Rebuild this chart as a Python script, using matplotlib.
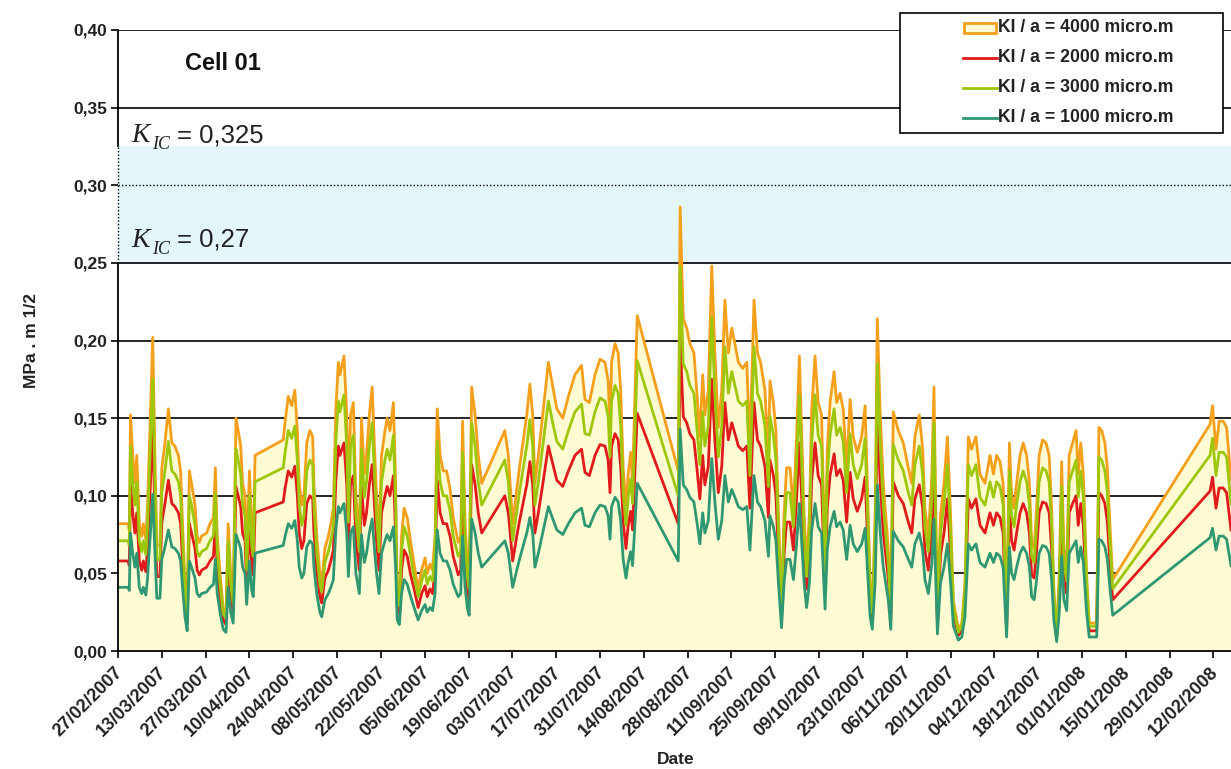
# Stress intensity factor KI over time for four crack sizes - Cell 01
import datetime as dt
import numpy as np
import matplotlib
matplotlib.use("Agg")
import matplotlib.pyplot as plt
import matplotlib.dates as mdates
import matplotlib.transforms as mtransforms
from matplotlib.patches import Rectangle
from matplotlib.lines import Line2D

plt.rcParams["font.family"] = ["Liberation Sans", "DejaVu Sans"]

# ---------------------------------------------------------------- data
START = dt.date(2007, 2, 27)

# days elapsed since START for each record
days = [
    0.0, 3.3, 3.6, 4.0, 4.7, 5.4, 6.0, 6.8, 7.6, 8.1,
    8.9, 9.4, 10.2, 11.1, 11.8, 12.4, 13.4, 14.0, 15.0, 16.1,
    17.2, 18.2, 19.3, 20.0, 20.7, 21.4, 22.1, 22.8, 23.5, 24.6,
    25.3, 26.0, 26.7, 28.3, 29.4, 30.5, 31.1, 31.7, 32.6, 33.6,
    34.5, 35.2, 36.0, 36.8, 37.7, 38.4, 39.2, 39.8, 40.6, 41.1,
    42.0, 42.7, 43.2, 43.8, 52.8, 53.4, 54.4, 55.5, 56.5, 57.3,
    57.9, 58.7, 59.4, 60.3, 61.3, 62.2, 62.6, 63.5, 64.5, 65.1,
    66.1, 67.2, 68.0,
    68.8, 69.6, 70.4, 70.9, 72.2, 73.1, 73.6, 74.3, 75.2, 76.0,
    77.1, 77.8, 78.7, 79.4, 80.3, 81.2, 81.9, 82.6, 83.4, 84.2,
    85.3, 86.0, 86.9, 88.0, 88.7, 89.2, 89.9, 90.6, 91.4, 92.4,
    93.5, 94.6, 95.9, 97.0, 98.1, 98.8, 99.7, 100.5, 101.3, 102.0,
    102.9, 103.9, 105.0, 106.1, 107.1, 108.7, 109.5, 110.1, 110.9, 111.6,
    112.2, 113.0, 114.1, 115.1, 116.2, 123.6, 124.7, 126.1, 127.4, 128.4,
    130.6, 131.6, 132.5, 133.2, 134.3, 135.9, 137.5,
    139.1, 140.2, 142.1, 143.9, 146.0, 148.1, 149.2, 150.6, 152.4, 154.0,
    155.6, 156.6, 157.2, 157.7, 158.8, 159.8, 160.6, 161.4, 162.3, 163.0,
    163.8, 164.4, 165.9, 179.0, 179.6, 180.6, 181.7, 182.7, 184.0, 184.9,
    185.9, 186.8, 187.5, 188.6, 189.7, 190.7, 191.8, 192.9, 193.9, 195.0,
    196.1, 197.1, 198.2, 199.6, 200.9, 201.9, 203.2, 204.3, 205.3, 206.7, 207.8,
    208.3, 209.4, 210.2, 211.0, 212.0, 212.8, 213.6, 214.7, 215.8, 216.8,
    217.7, 218.4, 219.2, 220.0, 220.9, 221.6, 222.7, 223.7, 224.8, 225.9,
    226.6, 227.5, 228.8, 229.6, 230.7, 231.7, 232.8, 233.9, 234.9, 236.2,
    237.6, 238.7, 239.4, 240.3, 241.0, 241.9, 242.6, 243.5, 244.5, 246.1,
    246.9, 247.7, 249.3, 250.9, 252.5, 253.6, 254.6, 256.0, 257.1, 257.8,
    258.9, 260.0, 260.7, 261.8, 262.8, 263.9, 265.0, 266.0, 266.9, 268.5,
    269.6, 270.6, 271.7, 272.7, 274.1, 275.4, 277.0,
    278.6, 279.7, 280.7, 281.8, 282.8, 283.9, 284.8, 285.5, 286.3, 287.1,
    288.2, 289.2, 290.3, 291.2, 291.9, 292.7, 293.5, 294.3, 295.4, 296.5,
    297.5, 298.3, 299.0, 299.9, 300.7, 301.5, 302.2, 303.1, 303.9, 305.0,
    306.1, 306.8, 307.6, 308.4, 309.5, 310.3, 311.6, 312.7, 313.4, 314.3,
    315.3, 316.1, 316.9, 317.8, 348.9, 349.7, 350.8, 351.8, 353.1, 354.2, 355.6,
]

# KI (MPa.m^1/2), crack size a = 1000 micro.m
k1000 = [
    0.041, 0.041, 0.039, 0.076, 0.063, 0.054, 0.063, 0.041, 0.037, 0.041,
    0.036, 0.046, 0.071, 0.101, 0.063, 0.034, 0.034, 0.059, 0.067, 0.078,
    0.067, 0.066, 0.063, 0.058, 0.039, 0.022, 0.013, 0.058, 0.054, 0.047,
    0.037, 0.035, 0.037, 0.038, 0.041, 0.043, 0.059, 0.037, 0.025, 0.014,
    0.012, 0.041, 0.025, 0.018, 0.075, 0.071, 0.066, 0.054, 0.050, 0.030,
    0.058, 0.039, 0.035, 0.063, 0.068, 0.074, 0.082, 0.079, 0.084, 0.071,
    0.054, 0.047, 0.050, 0.067, 0.071, 0.069, 0.054, 0.037, 0.025, 0.022,
    0.033, 0.037, 0.041,
    0.046, 0.078, 0.093, 0.089, 0.095, 0.076, 0.048, 0.076, 0.080, 0.050,
    0.037, 0.075, 0.057, 0.063, 0.076, 0.085, 0.067, 0.050, 0.037, 0.063,
    0.071, 0.075, 0.071, 0.080, 0.054, 0.020, 0.017, 0.037, 0.046, 0.043,
    0.035, 0.028, 0.020, 0.026, 0.030, 0.025, 0.028, 0.026, 0.037, 0.078,
    0.063, 0.058, 0.058, 0.052, 0.043, 0.035, 0.037, 0.074, 0.041, 0.028,
    0.023, 0.085, 0.076, 0.063, 0.054, 0.071, 0.063, 0.041, 0.052, 0.060,
    0.076, 0.086, 0.076, 0.054, 0.063, 0.078, 0.093,
    0.084, 0.078, 0.075, 0.082, 0.089, 0.092, 0.081, 0.080, 0.089, 0.094,
    0.093, 0.087, 0.072, 0.093, 0.099, 0.096, 0.084, 0.059, 0.047, 0.057,
    0.064, 0.055, 0.108, 0.058, 0.143, 0.107, 0.104, 0.099, 0.096, 0.084,
    0.069, 0.089, 0.076, 0.084, 0.124, 0.096, 0.072, 0.084, 0.113, 0.096,
    0.104, 0.099, 0.093, 0.091, 0.093, 0.065, 0.113, 0.096, 0.093, 0.084, 0.061,
    0.087, 0.080, 0.071, 0.044, 0.015, 0.044, 0.059, 0.059, 0.046, 0.069,
    0.095, 0.071, 0.044, 0.028, 0.044, 0.077, 0.095, 0.080, 0.076, 0.027,
    0.065, 0.080, 0.090, 0.080, 0.083, 0.078, 0.059, 0.081, 0.069, 0.064,
    0.069, 0.079, 0.054, 0.022, 0.014, 0.044, 0.107, 0.077, 0.054, 0.033,
    0.014, 0.077, 0.071, 0.067, 0.059, 0.054, 0.069, 0.076, 0.065, 0.046,
    0.037, 0.056, 0.085, 0.011, 0.044, 0.054, 0.069, 0.044, 0.016, 0.007,
    0.009, 0.022, 0.069, 0.065, 0.069, 0.057, 0.054,
    0.063, 0.057, 0.063, 0.061, 0.054, 0.009, 0.067, 0.050, 0.046, 0.054,
    0.063, 0.067, 0.063, 0.054, 0.035, 0.033, 0.046, 0.063, 0.068, 0.067,
    0.063, 0.046, 0.020, 0.006, 0.024, 0.061, 0.033, 0.026, 0.063, 0.067,
    0.071, 0.057, 0.067, 0.057, 0.024, 0.009, 0.009, 0.009, 0.072, 0.071,
    0.067, 0.059, 0.041, 0.023, 0.073, 0.079, 0.065, 0.074, 0.074, 0.072, 0.055,
]

# KI (MPa.m^1/2), crack size a = 2000 micro.m
k2000 = [
    0.058, 0.058, 0.055, 0.107, 0.089, 0.076, 0.089, 0.058, 0.052, 0.058,
    0.051, 0.065, 0.100, 0.143, 0.089, 0.048, 0.048, 0.083, 0.095, 0.110,
    0.095, 0.093, 0.089, 0.082, 0.055, 0.031, 0.018, 0.082, 0.076, 0.066,
    0.052, 0.049, 0.052, 0.054, 0.058, 0.061, 0.083, 0.052, 0.035, 0.020,
    0.017, 0.058, 0.035, 0.025, 0.106, 0.100, 0.093, 0.076, 0.071, 0.042,
    0.082, 0.055, 0.049, 0.089, 0.096, 0.105, 0.116, 0.112, 0.119, 0.100,
    0.076, 0.066, 0.071, 0.095, 0.100, 0.098, 0.076, 0.052, 0.035, 0.031,
    0.047, 0.052, 0.058,
    0.065, 0.110, 0.132, 0.126, 0.134, 0.107, 0.068, 0.107, 0.113, 0.071,
    0.052, 0.106, 0.081, 0.089, 0.107, 0.120, 0.095, 0.071, 0.052, 0.089,
    0.100, 0.106, 0.100, 0.113, 0.076, 0.028, 0.024, 0.052, 0.065, 0.061,
    0.049, 0.040, 0.028, 0.037, 0.042, 0.035, 0.040, 0.037, 0.052, 0.110,
    0.089, 0.082, 0.082, 0.074, 0.061, 0.049, 0.052, 0.105, 0.058, 0.040,
    0.033, 0.120, 0.107, 0.089, 0.076, 0.100, 0.089, 0.058, 0.074, 0.085,
    0.107, 0.122, 0.107, 0.076, 0.089, 0.110, 0.132,
    0.119, 0.110, 0.106, 0.116, 0.126, 0.130, 0.115, 0.113, 0.126, 0.133,
    0.132, 0.123, 0.102, 0.132, 0.140, 0.136, 0.119, 0.083, 0.066, 0.081,
    0.090, 0.078, 0.153, 0.082, 0.202, 0.151, 0.147, 0.140, 0.136, 0.119,
    0.098, 0.126, 0.107, 0.119, 0.175, 0.136, 0.102, 0.119, 0.160, 0.136,
    0.147, 0.140, 0.132, 0.129, 0.132, 0.092, 0.160, 0.136, 0.132, 0.119, 0.086,
    0.123, 0.113, 0.100, 0.062, 0.021, 0.062, 0.083, 0.083, 0.065, 0.098,
    0.134, 0.100, 0.062, 0.040, 0.062, 0.109, 0.134, 0.113, 0.107, 0.038,
    0.092, 0.113, 0.127, 0.113, 0.117, 0.110, 0.083, 0.115, 0.098, 0.090,
    0.098, 0.112, 0.076, 0.031, 0.020, 0.062, 0.151, 0.109, 0.076, 0.047,
    0.020, 0.109, 0.100, 0.095, 0.083, 0.076, 0.098, 0.107, 0.092, 0.065,
    0.052, 0.079, 0.120, 0.016, 0.062, 0.076, 0.098, 0.062, 0.023, 0.010,
    0.013, 0.031, 0.098, 0.092, 0.098, 0.081, 0.076,
    0.089, 0.081, 0.089, 0.086, 0.076, 0.013, 0.095, 0.071, 0.065, 0.076,
    0.089, 0.095, 0.089, 0.076, 0.049, 0.047, 0.065, 0.089, 0.096, 0.095,
    0.089, 0.065, 0.028, 0.008, 0.034, 0.086, 0.047, 0.037, 0.089, 0.095,
    0.100, 0.081, 0.095, 0.081, 0.034, 0.013, 0.013, 0.013, 0.102, 0.100,
    0.095, 0.083, 0.058, 0.033, 0.103, 0.112, 0.092, 0.105, 0.105, 0.102, 0.078,
]

# KI (MPa.m^1/2), crack size a = 3000 micro.m
k3000 = [
    0.071, 0.071, 0.068, 0.132, 0.109, 0.094, 0.109, 0.071, 0.064, 0.071,
    0.062, 0.080, 0.123, 0.175, 0.109, 0.059, 0.059, 0.102, 0.116, 0.135,
    0.116, 0.114, 0.109, 0.100, 0.068, 0.038, 0.023, 0.100, 0.094, 0.081,
    0.064, 0.061, 0.064, 0.066, 0.071, 0.074, 0.102, 0.064, 0.043, 0.024,
    0.021, 0.071, 0.043, 0.031, 0.130, 0.123, 0.114, 0.094, 0.087, 0.052,
    0.100, 0.068, 0.061, 0.109, 0.118, 0.128, 0.142, 0.137, 0.145, 0.123,
    0.094, 0.081, 0.087, 0.116, 0.123, 0.120, 0.094, 0.064, 0.043, 0.038,
    0.057, 0.064, 0.071,
    0.080, 0.135, 0.161, 0.154, 0.165, 0.132, 0.083, 0.132, 0.139, 0.087,
    0.064, 0.130, 0.099, 0.109, 0.132, 0.147, 0.116, 0.087, 0.064, 0.109,
    0.123, 0.130, 0.123, 0.139, 0.094, 0.035, 0.029, 0.064, 0.080, 0.074,
    0.061, 0.048, 0.035, 0.045, 0.052, 0.043, 0.048, 0.045, 0.064, 0.135,
    0.109, 0.100, 0.100, 0.090, 0.074, 0.061, 0.064, 0.128, 0.071, 0.048,
    0.040, 0.147, 0.132, 0.109, 0.094, 0.123, 0.109, 0.071, 0.090, 0.104,
    0.132, 0.149, 0.132, 0.094, 0.109, 0.135, 0.161,
    0.145, 0.135, 0.130, 0.142, 0.154, 0.159, 0.140, 0.139, 0.154, 0.163,
    0.161, 0.151, 0.125, 0.161, 0.171, 0.166, 0.145, 0.102, 0.081, 0.099,
    0.111, 0.095, 0.187, 0.100, 0.248, 0.185, 0.180, 0.171, 0.166, 0.145,
    0.120, 0.154, 0.132, 0.145, 0.215, 0.166, 0.125, 0.145, 0.196, 0.166,
    0.180, 0.171, 0.161, 0.158, 0.161, 0.113, 0.196, 0.166, 0.161, 0.145, 0.106,
    0.151, 0.139, 0.123, 0.076, 0.026, 0.076, 0.102, 0.102, 0.080, 0.120,
    0.165, 0.123, 0.076, 0.048, 0.076, 0.133, 0.165, 0.139, 0.132, 0.047,
    0.113, 0.139, 0.156, 0.139, 0.144, 0.135, 0.102, 0.140, 0.120, 0.111,
    0.120, 0.137, 0.094, 0.038, 0.024, 0.076, 0.185, 0.133, 0.094, 0.057,
    0.024, 0.133, 0.123, 0.116, 0.102, 0.094, 0.120, 0.132, 0.113, 0.080,
    0.064, 0.097, 0.147, 0.019, 0.076, 0.094, 0.120, 0.076, 0.028, 0.012,
    0.016, 0.038, 0.120, 0.113, 0.120, 0.099, 0.094,
    0.109, 0.099, 0.109, 0.106, 0.094, 0.016, 0.116, 0.087, 0.080, 0.094,
    0.109, 0.116, 0.109, 0.094, 0.061, 0.057, 0.080, 0.109, 0.118, 0.116,
    0.109, 0.080, 0.035, 0.010, 0.042, 0.106, 0.057, 0.045, 0.109, 0.116,
    0.123, 0.099, 0.116, 0.099, 0.042, 0.016, 0.016, 0.016, 0.125, 0.123,
    0.116, 0.102, 0.071, 0.040, 0.126, 0.137, 0.113, 0.128, 0.128, 0.125, 0.095,
]

# KI (MPa.m^1/2), crack size a = 4000 micro.m
k4000 = [
    0.082, 0.082, 0.078, 0.152, 0.126, 0.108, 0.126, 0.082, 0.074, 0.082,
    0.072, 0.092, 0.142, 0.202, 0.126, 0.068, 0.068, 0.118, 0.134, 0.156,
    0.134, 0.132, 0.126, 0.116, 0.078, 0.044, 0.026, 0.116, 0.108, 0.094,
    0.074, 0.070, 0.074, 0.076, 0.082, 0.086, 0.118, 0.074, 0.050, 0.028,
    0.024, 0.082, 0.050, 0.036, 0.150, 0.142, 0.132, 0.108, 0.100, 0.060,
    0.116, 0.078, 0.070, 0.126, 0.136, 0.148, 0.164, 0.158, 0.168, 0.142,
    0.108, 0.094, 0.100, 0.134, 0.142, 0.138, 0.108, 0.074, 0.050, 0.044,
    0.066, 0.074, 0.082,
    0.092, 0.156, 0.186, 0.178, 0.190, 0.152, 0.096, 0.152, 0.160, 0.100,
    0.074, 0.150, 0.114, 0.126, 0.152, 0.170, 0.134, 0.100, 0.074, 0.126,
    0.142, 0.150, 0.142, 0.160, 0.108, 0.040, 0.034, 0.074, 0.092, 0.086,
    0.070, 0.056, 0.040, 0.052, 0.060, 0.050, 0.056, 0.052, 0.074, 0.156,
    0.126, 0.116, 0.116, 0.104, 0.086, 0.070, 0.074, 0.148, 0.082, 0.056,
    0.046, 0.170, 0.152, 0.126, 0.108, 0.142, 0.126, 0.082, 0.104, 0.120,
    0.152, 0.172, 0.152, 0.108, 0.126, 0.156, 0.186,
    0.168, 0.156, 0.150, 0.164, 0.178, 0.184, 0.162, 0.160, 0.178, 0.188,
    0.186, 0.174, 0.144, 0.186, 0.198, 0.192, 0.168, 0.118, 0.094, 0.114,
    0.128, 0.110, 0.216, 0.116, 0.286, 0.214, 0.208, 0.198, 0.192, 0.168,
    0.138, 0.178, 0.152, 0.168, 0.248, 0.192, 0.144, 0.168, 0.226, 0.192,
    0.208, 0.198, 0.186, 0.182, 0.186, 0.130, 0.226, 0.192, 0.186, 0.168, 0.122,
    0.174, 0.160, 0.142, 0.088, 0.030, 0.088, 0.118, 0.118, 0.092, 0.138,
    0.190, 0.142, 0.088, 0.056, 0.088, 0.154, 0.190, 0.160, 0.152, 0.054,
    0.130, 0.160, 0.180, 0.160, 0.166, 0.156, 0.118, 0.162, 0.138, 0.128,
    0.138, 0.158, 0.108, 0.044, 0.028, 0.088, 0.214, 0.154, 0.108, 0.066,
    0.028, 0.154, 0.142, 0.134, 0.118, 0.108, 0.138, 0.152, 0.130, 0.092,
    0.074, 0.112, 0.170, 0.022, 0.088, 0.108, 0.138, 0.088, 0.032, 0.014,
    0.018, 0.044, 0.138, 0.130, 0.138, 0.114, 0.108,
    0.126, 0.114, 0.126, 0.122, 0.108, 0.018, 0.134, 0.100, 0.092, 0.108,
    0.126, 0.134, 0.126, 0.108, 0.070, 0.066, 0.092, 0.126, 0.136, 0.134,
    0.126, 0.092, 0.040, 0.012, 0.048, 0.122, 0.066, 0.052, 0.126, 0.134,
    0.142, 0.114, 0.134, 0.114, 0.048, 0.018, 0.018, 0.018, 0.144, 0.142,
    0.134, 0.118, 0.082, 0.046, 0.146, 0.158, 0.130, 0.148, 0.148, 0.144, 0.110,
]

legend_labels = [
    "KI / a = 4000 micro.m",
    "KI / a = 2000 micro.m",
    "KI / a = 3000 micro.m",
    "KI / a = 1000 micro.m",
]
y_ticks = [0.00, 0.05, 0.10, 0.15, 0.20, 0.25, 0.30, 0.35, 0.40]
KIC_LOW = 0.27
KIC_HIGH = 0.325
BAND_FLOOR = 0.25
TICK_STEP_DAYS = 14
N_DATE_TICKS = 26

# ---------------------------------------------------------------- style
C_AREA_EDGE = "#f4a01c"
C_AREA_FILL = "#fffbd2"
C_2000 = "#e11b1b"
C_3000 = "#9dc70a"
C_1000 = "#2f9872"
C_BAND = "#e3f7fb"
C_TEXT = "#222222"
LW = 2.0

W, H = 1231, 769
fig = plt.figure(figsize=(W / 100, H / 100), dpi=100)
fig.patch.set_facecolor("white")


def fx(px):
    return px / W


def fy(py):
    return 1 - py / H


L, R, T, B = 118, 1231, 30, 651
ax = fig.add_axes([fx(L), fy(B), fx(R) - fx(L), fy(T) - fy(B)])

t0 = mdates.date2num(START)
x = t0 + np.asarray(days)

# critical toughness band and horizontal grid
ax.axhspan(BAND_FLOOR, KIC_HIGH, color=C_BAND, lw=0, zorder=0)
for v in y_ticks[1:]:
    if np.isclose(v, 0.30):
        ax.axhline(v, color="black", lw=1.0, ls=(0, (1, 1.5)), zorder=1)
    else:
        ax.axhline(v, color="black", lw=1.2, zorder=1)

# a = 4000 as filled area, the other crack sizes as lines
ax.fill_between(x, 0, k4000, color=C_AREA_FILL, lw=0, zorder=2)
ax.plot(x, k4000, color=C_AREA_EDGE, lw=LW, zorder=3)
ax.plot(x, k2000, color=C_2000, lw=LW, zorder=4)
ax.plot(x, k3000, color=C_3000, lw=LW, zorder=5)
ax.plot(x, k1000, color=C_1000, lw=LW, zorder=6)

# spines: left axis line is dotted across the toughness band
for s in ("top", "right", "left"):
    ax.spines[s].set_visible(False)
ax.spines["bottom"].set_linewidth(1.3)
yax = ax.get_yaxis_transform()
ax.plot([0, 0], [0, BAND_FLOOR], transform=yax, color="black", lw=1.3,
        clip_on=False, zorder=7)
ax.plot([0, 0], [KIC_HIGH, y_ticks[-1]], transform=yax, color="black", lw=1.3,
        clip_on=False, zorder=7)
ax.plot([0, 0], [BAND_FLOOR, KIC_HIGH], transform=yax, color="black", lw=1.0,
        ls=(0, (1, 1.5)), clip_on=False, zorder=7)

ax.set_xlim(x[0], x[-1])
ax.set_ylim(y_ticks[0], y_ticks[-1])

# y ticks with decimal comma
ax.set_yticks(y_ticks, labels=[f"{v:.2f}".replace(".", ",") for v in y_ticks],
              fontsize=12.5, fontweight="bold", color=C_TEXT)
ax.tick_params(axis="y", direction="out", length=5, width=1.2, pad=3)

# fortnightly date ticks
tick_days = [TICK_STEP_DAYS * i for i in range(N_DATE_TICKS)]
tick_labels = [(START + dt.timedelta(days=d)).strftime("%d/%m/%Y") for d in tick_days]
ax.set_xticks(t0 + np.asarray(tick_days, dtype=float), labels=tick_labels,
              rotation=45, ha="right", va="top", rotation_mode="anchor",
              fontsize=13, fontweight="bold", color=C_TEXT)
ax.tick_params(axis="x", direction="out", length=5, width=1.2, pad=4)
shift = mtransforms.ScaledTranslation(-4 / 100, 0, fig.dpi_scale_trans)
for lbl in ax.get_xticklabels():
    lbl.set_transform(lbl.get_transform() + shift)

# axis titles
fig.text(fx(676), fy(760), "Date", ha="center", va="center",
         fontsize=12.5, fontweight="bold", color=C_TEXT)
fig.text(fx(32), fy(340), "MPa . m 1/2", ha="center", va="center",
         rotation=90, fontsize=12.5, fontweight="bold", color=C_TEXT)

# panel title
fig.text(fx(185), fy(63), "Cell 01", ha="left", va="center",
         fontsize=17, fontweight="bold", color="#111111")


# KIC annotations
def kic_label(x_px, base_px, value):
    fig.text(fx(x_px), fy(base_px), "K", family="Liberation Serif",
             style="italic", fontsize=20, va="baseline", color=C_TEXT)
    fig.text(fx(x_px + 21), fy(base_px + 7), "IC", family="Liberation Serif",
             style="italic", fontsize=13, va="baseline", color=C_TEXT)
    fig.text(fx(x_px + 46), fy(base_px), "= " + f"{value:g}".replace(".", ","),
             fontsize=18.5, va="baseline", color=C_TEXT)


kic_label(131, 142, KIC_HIGH)
kic_label(131, 247, KIC_LOW)

# legend box
fig.add_artist(Rectangle((fx(900), fy(133)), fx(1223) - fx(900), fy(13) - fy(133),
                         transform=fig.transFigure, facecolor="white",
                         edgecolor="black", lw=1.2, zorder=10))
rows = [28, 58, 88, 118]
fig.add_artist(Rectangle((fx(964), fy(rows[0] + 5)), fx(996) - fx(964),
                         fy(rows[0] - 5) - fy(rows[0] + 5),
                         transform=fig.transFigure, facecolor=C_AREA_FILL,
                         edgecolor=C_AREA_EDGE, lw=2.0, zorder=11))
for yrow, col in zip(rows[1:], [C_2000, C_3000, C_1000]):
    fig.add_artist(Line2D([fx(963), fx(997)], [fy(yrow), fy(yrow)],
                          transform=fig.transFigure, color=col, lw=LW, zorder=11))
for yrow, lab in zip(rows, legend_labels):
    fig.text(fx(998), fy(yrow), lab, ha="left", va="center", fontsize=12.7,
             fontweight="bold", color=C_TEXT, zorder=12)

fig.savefig("out.png", dpi=100, facecolor="white")
